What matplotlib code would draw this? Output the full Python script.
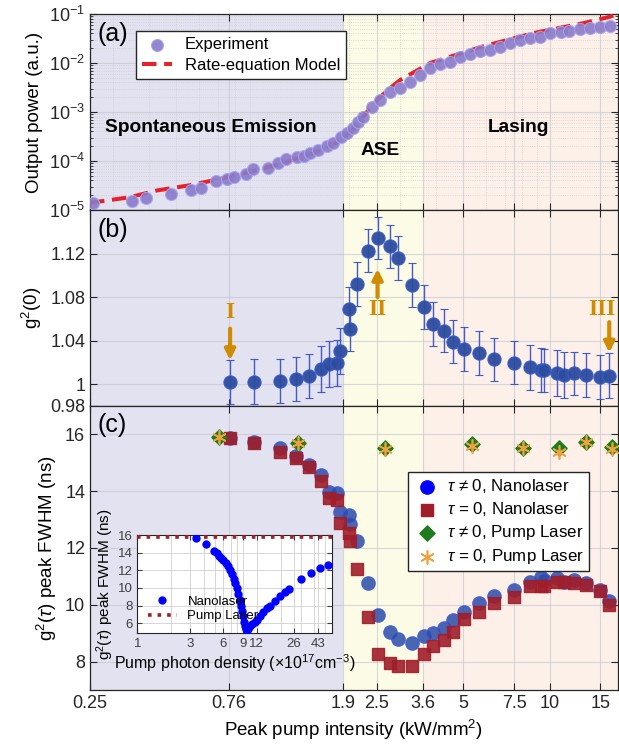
import matplotlib.pyplot as plt
import numpy as np
from matplotlib.ticker import FixedLocator, FixedFormatter, LogLocator, NullFormatter, NullLocator

plt.rcParams['font.family'] = ['Liberation Sans', 'DejaVu Sans']
plt.rcParams['mathtext.fontset'] = 'custom'
plt.rcParams['mathtext.rm'] = 'Liberation Sans'
plt.rcParams['mathtext.it'] = 'Liberation Sans:italic'
plt.rcParams['axes.edgecolor'] = '#262626'
plt.rcParams['xtick.color'] = '#262626'
plt.rcParams['ytick.color'] = '#262626'

# ---- data ----
# regime boundaries (kW/mm^2)
bounds = [0.25, 1.9, 3.6, 17.2]
region_colors = ['#E2E2F0', '#FBFBE6', '#FCF0E9']
xticks = [0.25, 0.76, 1.9, 2.5, 3.6, 5, 7.5, 10, 15]
xticklabels = ['0.25', '0.76', '1.9', '2.5', '3.6', '5', '7.5', '10', '15']

# (a) light-in light-out
x_exp = [0.256, 0.350, 0.392, 0.479, 0.562, 0.610, 0.687, 0.750, 0.794, 0.875,
         0.925, 1.04, 1.13, 1.20, 1.32, 1.39, 1.46, 1.56, 1.67, 1.76,
         1.87, 1.97, 2.06, 2.15, 2.23, 2.40, 2.56, 2.77, 3.01, 3.26,
         3.53, 3.83, 4.15, 4.49, 4.86, 5.27, 5.71, 6.19, 6.71, 7.26,
         7.87, 8.53, 9.25, 10.0, 10.9, 11.7, 12.7, 13.8, 15.0, 16.2]
y_exp = [1.39e-5, 1.53e-5, 1.76e-5, 2.12e-5, 2.56e-5, 2.81e-5, 3.91e-5, 4.30e-5, 4.71e-5, 5.43e-5,
         6.87e-5, 7.2e-5, 9.1e-5, 1.10e-4, 1.21e-4, 1.26e-4, 1.46e-4, 1.68e-4, 2.02e-4, 2.33e-4,
         3.09e-4, 3.7e-4, 4.71e-4, 6.3e-4, 7.9e-4, 1.27e-3, 1.76e-3, 2.56e-3, 3.09e-3, 4.1e-3,
         5.7e-3, 7.9e-3, 9.5e-3, 1.05e-2, 1.32e-2, 1.53e-2, 1.76e-2, 1.84e-2, 2.12e-2, 2.56e-2,
         2.94e-2, 3.24e-2, 3.4e-2, 4.1e-2, 4.3e-2, 4.5e-2, 4.94e-2, 5.2e-2, 5.4e-2, 5.7e-2]
x_model = [0.25, 0.344, 0.427, 0.557, 0.709, 0.902, 1.15, 1.50, 1.86, 2.05,
           2.23, 2.50, 2.80, 3.01, 3.83, 5.8, 8.8, 13.1, 16.2, 17.2]
y_model = [1.4e-5, 1.82e-5, 2.5e-5, 3.2e-5, 4.3e-5, 6.0e-5, 8.7e-5, 1.45e-4, 2.6e-4, 4.3e-4,
           7.9e-4, 1.76e-3, 3.2e-3, 4.5e-3, 1.0e-2, 2.15e-2, 4.1e-2, 6.5e-2, 8.8e-2, 1.0e-1]

# (b) and (c) share the same pump intensities
x_pts = [0.769, 0.934, 1.15, 1.31, 1.45, 1.60, 1.70, 1.82, 1.86, 1.99,
         2.01, 2.12, 2.33, 2.51, 2.77, 2.96, 3.32, 3.64, 3.91, 4.29,
         4.61, 5.03, 5.67, 6.41, 7.48, 8.53, 9.29, 9.57, 10.6, 11.2,
         12.1, 13.4, 15.0, 16.1]
g2 = [1.0018, 1.0023, 1.0030, 1.0048, 1.0076, 1.0140, 1.0186, 1.0193, 1.0306, 1.0689,
      1.0505, 1.0919, 1.1228, 1.1342, 1.1265, 1.1158, 1.0913, 1.0708, 1.0551, 1.0492,
      1.0391, 1.0324, 1.0285, 1.0229, 1.0198, 1.0156, 1.0131, 1.0128, 1.0103, 1.0085,
      1.0100, 1.0085, 1.0064, 1.0079]
g2_err = [0.020, 0.0205, 0.020, 0.020, 0.020, 0.021, 0.021, 0.021, 0.021, 0.020,
          0.020, 0.020, 0.020, 0.019, 0.020, 0.020, 0.020, 0.020, 0.020, 0.020,
          0.020, 0.020, 0.020, 0.020, 0.020, 0.0205, 0.020, 0.020, 0.021, 0.021,
          0.020, 0.020, 0.020, 0.021]
fwhm_tau = [15.88, 15.74, 15.51, 15.24, 14.92, 14.57, 13.96, 13.93, 13.28, 13.16,
            12.83, 12.25, 10.78, 9.64, 9.05, 8.80, 8.67, 8.90, 9.00, 9.17,
            9.46, 9.76, 10.05, 10.31, 10.52, 10.81, 10.99, 10.87, 10.93, 10.81,
            10.87, 10.76, 10.52, 10.12]
fwhm_zero = [15.86, 15.69, 15.37, 15.18, 14.86, 14.36, 13.75, 13.69, 12.87, 12.52,
             12.25, 11.26, 9.57, 8.27, 7.96, 7.85, 7.85, 8.27, 8.56, 8.76,
             9.05, 9.49, 9.76, 10.05, 10.29, 10.67, 10.67, 10.67, 10.81, 10.81,
             10.78, 10.70, 10.50, 9.99]
x_pump = [0.706, 1.33, 2.67, 5.34, 8.05, 10.8, 13.4, 16.4]
pump_tau = [15.92, 15.69, 15.51, 15.65, 15.53, 15.51, 15.74, 15.57]
pump_zero = [15.90, 15.68, 15.50, 15.60, 15.53, 15.37, 15.72, 15.50]

# inset
n_photon = [3.38, 4.17, 4.95, 5.24, 5.5, 5.75, 6.01, 6.3, 6.6, 6.91,
            7.2, 7.45, 7.67, 7.9, 8.15, 8.40, 8.6, 8.8, 9.01, 9.2,
            9.4, 9.6, 9.80, 10.1, 10.5, 11.0, 11.5, 12.1, 12.8, 13.8,
            14.8, 15.9, 17.7, 19.6, 21.5, 23.7, 30.4, 37.4, 44.5, 52.6]
fwhm_inset = [15.63, 14.98, 14.23, 13.93, 13.65, 13.4, 13.18, 12.8, 12.45, 12.05,
              11.6, 11.0, 10.54, 10.0, 9.3, 8.66, 8.0, 7.4, 6.77, 6.2,
              5.7, 5.4, 5.27, 5.4, 5.64, 5.9, 6.15, 6.40, 6.8, 7.33,
              7.7, 7.98, 8.54, 9.11, 9.59, 9.90, 11.03, 11.74, 12.24, 12.61]
pump_level = 15.74
inset_xticks = [1, 3, 6, 9, 12, 26, 43]

orange = '#D08C00'
tick_fs = 13
label_fs = 13.5

fig = plt.figure(figsize=(6.19, 7.51), dpi=100)
L, W = 90 / 619, 527.5 / 619
ax_a = fig.add_axes([L, 1 - 210 / 751, W, 196 / 751])
ax_b = fig.add_axes([L, 1 - 406 / 751, W, 196 / 751])
ax_c = fig.add_axes([L, 1 - 690 / 751, W, 284 / 751])

for ax in (ax_a, ax_b, ax_c):
    ax.set_xscale('log')
    ax.set_xlim(bounds[0], bounds[-1])
    for i in range(3):
        ax.axvspan(bounds[i], bounds[i + 1], color=region_colors[i], zorder=0, lw=0)
    ax.set_axisbelow(True)
    ax.xaxis.set_major_locator(FixedLocator(xticks))
    ax.xaxis.set_minor_locator(NullLocator())
    ax.xaxis.set_major_formatter(NullFormatter())
    ax.xaxis.set_minor_formatter(NullFormatter())
    ax.tick_params(which='both', direction='in', top=True, right=True, labelsize=tick_fs)
    ax.tick_params(which='major', length=5)
    ax.grid(True, which='major', color='#c8c8d0', lw=0.8, alpha=0.7)
    for s in ax.spines.values():
        s.set_linewidth(0.9)

# ---- (a) ----
ax_a.set_yscale('log')
ax_a.set_ylim(1e-5, 1e-1)
ax_a.yaxis.set_minor_locator(LogLocator(subs=np.arange(2, 10)))
ax_a.xaxis.set_minor_locator(LogLocator(subs=np.arange(2, 10)))
ax_a.xaxis.set_minor_formatter(NullFormatter())
ax_a.tick_params(axis='x', which='minor', length=0)
ax_a.grid(True, which='minor', color='#c8c8d0', lw=0.6, ls=':', alpha=0.8)
ax_a.plot(x_model, y_model, ls=(0, (3.6, 1.9)), color='#E8202A', lw=2.9, zorder=3,
          label='Rate-equation Model')
ax_a.scatter(x_exp, y_exp, s=75, color='#8A7AC8', edgecolors='#A8A4F0', linewidths=0.8,
             alpha=0.9, zorder=4, label='Experiment')
h, l = ax_a.get_legend_handles_labels()
ax_a.legend(h[::-1], l[::-1], loc='upper left', bbox_to_anchor=(0.087, 0.913), fontsize=12,
            fancybox=False, framealpha=1, edgecolor='#262626', borderpad=0.35,
            borderaxespad=0, handlelength=1.8, labelspacing=0.35)
ax_a.set_ylabel('Output power (a.u.)', fontsize=label_fs)
ax_a.text(0.015, 0.96, '(a)', transform=ax_a.transAxes, fontsize=18, va='top', ha='left')
ax_a.text(0.66, 4.9e-4, 'Spontaneous Emission', fontsize=13.8, fontweight='bold',
          ha='center', va='center')
ax_a.text(2.56, 1.6e-4, 'ASE', fontsize=13.8, fontweight='bold', ha='center', va='center')
ax_a.text(7.8, 4.9e-4, 'Lasing', fontsize=13.8, fontweight='bold', ha='center', va='center')

# ---- (b) ----
ax_b.set_ylim(0.98, 1.16)
ax_b.set_yticks([0.98, 1.0, 1.04, 1.08, 1.12])
ax_b.set_yticklabels(['0.98', '1', '1.04', '1.08', '1.12'])
ax_b.errorbar(x_pts, g2, yerr=g2_err, fmt='o', ms=9.5, mfc='#2C4C9E', mec='#3A5AD0',
              mew=0.8, ecolor='#3A52C4', elinewidth=1, capsize=3, alpha=0.95, zorder=4)
ax_b.set_ylabel('g$^2$(0)', fontsize=label_fs)
ax_b.text(0.015, 0.96, '(b)', transform=ax_b.transAxes, fontsize=18, va='top', ha='left')
arrow = dict(arrowstyle='-|>', color=orange, lw=3, mutation_scale=15, shrinkA=0, shrinkB=0)
ax_b.annotate('', xy=(0.769, 1.022), xytext=(0.769, 1.051), arrowprops=arrow)
ax_b.text(0.769, 1.0655, 'I', color=orange, fontsize=17, fontweight='bold',
          family='Liberation Serif', ha='center', va='center')
ax_b.annotate('', xy=(2.51, 1.106), xytext=(2.51, 1.080), arrowprops=arrow)
ax_b.text(2.51, 1.069, 'II', color=orange, fontsize=17, fontweight='bold',
          family='Liberation Serif', ha='center', va='center')
ax_b.annotate('', xy=(16.1, 1.029), xytext=(16.1, 1.057), arrowprops=arrow)
ax_b.text(15.2, 1.069, 'III', color=orange, fontsize=17, fontweight='bold',
          family='Liberation Serif', ha='center', va='center')

# ---- (c) ----
ax_c.set_ylim(7, 17)
ax_c.set_yticks([8, 10, 12, 14, 16])
ax_c.xaxis.set_major_formatter(FixedFormatter(xticklabels))
ax_c.scatter(x_pts, fwhm_tau, s=95, color='#2C4CA8', edgecolors='#3A5AD8', linewidths=0.8,
             alpha=0.85, zorder=4, label=r'$\tau$ ≠ 0, Nanolaser')
ax_c.scatter(x_pts, fwhm_zero, s=75, marker='s', color='#A01E2A', edgecolors='#A01E2A',
             alpha=0.9, zorder=5, label=r'$\tau$ = 0, Nanolaser')
ax_c.scatter(x_pump, pump_tau, s=60, marker='D', color='#1E7B1E', zorder=6,
             label=r'$\tau$ ≠ 0, Pump Laser')
ax_c.scatter(x_pump, pump_zero, s=90, marker=(6, 2, 0), color='#F0A040', lw=1.2, zorder=7,
             label=r'$\tau$ = 0, Pump Laser')
leg = ax_c.legend(loc='upper left', bbox_to_anchor=(0.603, 0.768), fontsize=12.2,
                  fancybox=False, framealpha=1, edgecolor='#262626', borderpad=0.3,
                  borderaxespad=0, handletextpad=0.4, labelspacing=0.3, handlelength=1.6)
for hnd, c in zip(leg.legend_handles, ['#0000FF', '#A01E2A', '#1E7B1E', '#F0A040']):
    hnd.set_alpha(1)
    hnd.set_facecolor(c)
    hnd.set_edgecolor(c)
ax_c.set_ylabel(r'g$^2$($\tau$) peak FWHM (ns)', fontsize=label_fs)
ax_c.set_xlabel('Peak pump intensity (kW/mm$^2$)', fontsize=label_fs)
ax_c.text(0.015, 0.975, '(c)', transform=ax_c.transAxes, fontsize=18, va='top', ha='left')

# ---- inset ----
ins = fig.add_axes([137.3 / 619, 1 - 633 / 751, 195 / 619, 98 / 751])
ins.set_xscale('log')
ins.set_xlim(1, 58)
ins.set_ylim(4.9, 16)
ins.plot(n_photon, fwhm_inset, 'o', ms=5, color='#0000FF', zorder=4, label='Nanolaser')
ins.axhline(pump_level, color='#A01E2A', ls=':', lw=2.6, zorder=3, label='Pump Laser')
ins.xaxis.set_major_locator(FixedLocator(inset_xticks))
ins.xaxis.set_major_formatter(FixedFormatter([str(t) for t in inset_xticks]))
ins.xaxis.set_minor_locator(LogLocator(subs=np.arange(2, 10)))
ins.xaxis.set_minor_formatter(NullFormatter())
ins.set_yticks([6, 8, 10, 12, 14, 16])
ins.tick_params(which='both', direction='in', top=True, right=True, labelsize=9.5,
                colors='#404040')
ins.tick_params(axis='x', which='minor', length=0)
ins.grid(True, which='both', color='#d0d0d0', lw=0.6)
ins.set_axisbelow(True)
ins.set_xlabel(r'Pump photon density ($\times$10$^{17}$cm$^{-3}$)', fontsize=11.5, labelpad=2)
ins.set_ylabel(r'g$^2$($\tau$) peak FWHM (ns)', fontsize=11, labelpad=1)
ins.legend(loc='lower left', bbox_to_anchor=(0.0, 0.0), fontsize=9.5, frameon=False,
           handlelength=2.2, labelspacing=0.2, borderpad=0.3)

fig.savefig('out.png', dpi=100)
